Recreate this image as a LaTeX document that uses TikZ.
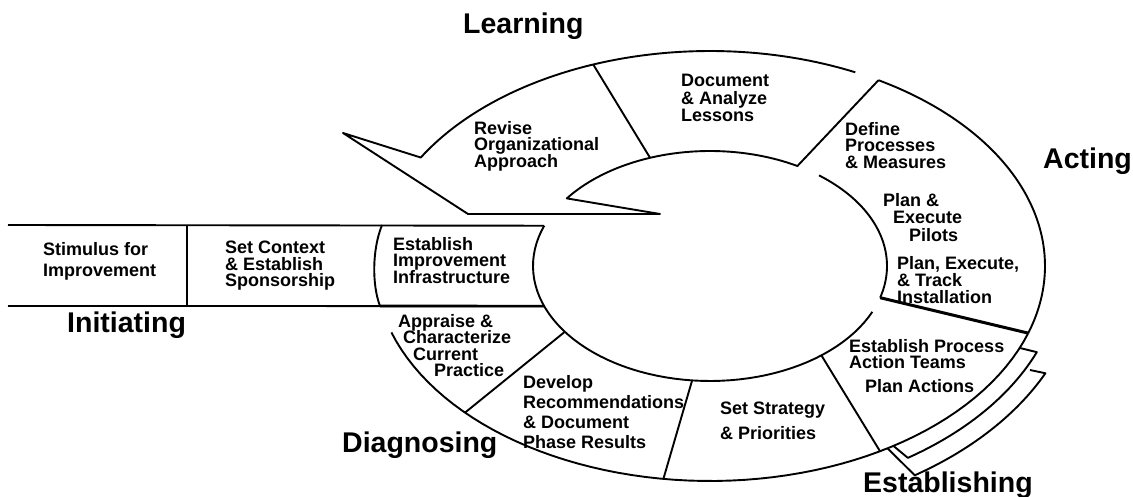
\documentclass[tikz,border=0pt]{standalone}
\usepackage{fontspec}
\setmainfont{Liberation Sans}
\setlength{\lineskiplimit}{-50pt}

\tikzset{
  stagetext/.style={align=left, inner sep=0pt, anchor=north west,
    font=\bfseries\fontsize{18}{#1}\selectfont},
  stagetext/.default=16.5,
  phasetext/.style={inner sep=0pt, anchor=north west,
    font=\bfseries\fontsize{28.5}{30}\selectfont},
  ringline/.style={line width=1.9pt, line join=round},
  % points round the ring centre (710,266)
  declare function={rx(\r,\t)=710+\r*cos(\t); ry(\r,\t)=266+\r*sin(\t);}
}

\begin{document}
\begin{tikzpicture}[x=1pt, y=-1pt, samples=60]
\useasboundingbox (0,0) rectangle (1133,497);

% points on the ring (outer 335 x 215, inner 177 x 115)
\coordinate (c) at (710,266);
\coordinate (lrnsplitout) at ([shift={(c)}]-110.4:335 and 215);
\coordinate (lrnsplitin) at ([shift={(c)}]-109.8:177 and 115);
\coordinate (actout) at ([shift={(c)}]-59.8:335 and 215);
\coordinate (actin) at ([shift={(c)}]-60.4:177 and 115);
\coordinate (actendin) at ([shift={(c)}]16:177 and 115);
\coordinate (actendout) at ([shift={(c)}]18.2:335 and 215);
\coordinate (bandtop) at ([shift={(c)}]200.5:177 and 115);
\coordinate (bandbot) at ([shift={(c)}]159.6:177 and 115);

% Learning - arrow back to the start
\draw[ringline] (actout) -- (actin)
  -- plot[domain=-60.4:-144] ({rx(177,\x)}, {ry(115,\x)})
  -- (660,214) -- (468,214) -- (343,133)
  -- plot[domain=-149.7:-64.3] ({rx(335,\x)}, {ry(215,\x)});
\draw[ringline] (lrnsplitout) -- (lrnsplitin);

% Acting
\draw[ringline] plot[domain=-59.8:18.2] ({rx(335,\x)}, {ry(215,\x)});
\draw[ringline] plot[domain=-52:16] ({rx(177,\x)}, {ry(115,\x)});
\draw[line width=3pt] (actendin) -- (actendout);

% Diagnosing and Establishing - lower half of the ring
\draw[ringline] plot[domain=162:18.2] ({rx(335,\x)}, {ry(215,\x)});
\draw[ringline] plot[domain=23.5:200.5] ({rx(177,\x)}, {ry(115,\x)});
\draw[ringline] ([shift={(c)}]145.1:177 and 115) -- ([shift={(c)}]137:335 and 215);
\draw[ringline] ([shift={(c)}]95.8:177 and 115) -- ([shift={(c)}]98:335 and 215);
\draw[ringline] ([shift={(c)}]51:177 and 115) -- ([shift={(c)}]59.5:335 and 215);

% Establishing - offset strips
\draw[ringline] ([shift={(c)}]22.4:335 and 215)
  -- plot[domain=21.8:55.8] ({rx(352,\x)}, {ry(232,\x)})
  -- ([shift={(c)}]56.8:335 and 215);
\draw[ringline] (1030,370)
  -- plot[domain=25.3:56.5] ({rx(371,\x)}, {ry(251,\x)})
  -- ([shift={(c)}]58:335 and 215);

% Initiating band
\draw[ringline] (8,225) -- (bandtop);
\draw[ringline] (8,306) -- (bandbot);
\draw[line width=2.6pt] (380,306) -- (bandbot);
\draw[ringline] (187,225) -- (187,306);
\draw[ringline] (382,225) .. controls (372,250) and (372,285) .. (380,306);

% phase names
\node[phasetext] (learning) at (463,13) {Learning};
\node[phasetext] (acting) at (1043,148) {Acting};
\node[phasetext] (initiating) at (67,312) {Initiating};
\node[phasetext] (diagnosing) at (342,432) {Diagnosing};
\node[phasetext] (establishing) at (863,472) {Establishing};

% steps
\node[stagetext=21.5] (stimulus) at (43,242) {Stimulus for\\Improvement};
\node[stagetext] (context) at (225,241) {Set Context\\\& Establish\\Sponsorship};
\node[stagetext] (infra) at (393,237) {Establish\\Improvement\\Infrastructure};
\node[stagetext] (appraise) at (398,314) {Appraise \&\\\hspace*{5pt}Characterize\\\hspace*{15pt}Current\\\hspace*{36pt}Practice};
\node[stagetext=20] (develop) at (523,375) {Develop\\Recommendations\\\& Document\\Phase Results};
\node[stagetext=25] (strategy) at (720,402) {Set Strategy\\\& Priorities};
\node[stagetext=16] (teams) at (849,339) {Establish Process\\Action Teams};
\node[stagetext] (actions) at (865,379) {Plan Actions};
\node[stagetext=17.5] (pilots) at (883,193) {Plan \&\\\hspace*{10pt}Execute\\\hspace*{26pt}Pilots};
\node[stagetext=17] (install) at (897,256) {Plan, Execute,\\\& Track\\Installation};
\node[stagetext] (define) at (845,122) {Define\\Processes\\\& Measures};
\node[stagetext=17.7] (lessons) at (681,74) {Document\\\& Analyze\\Lessons};
\node[stagetext] (revise) at (474,121) {Revise\\Organizational\\Approach};

\end{tikzpicture}
\end{document}
